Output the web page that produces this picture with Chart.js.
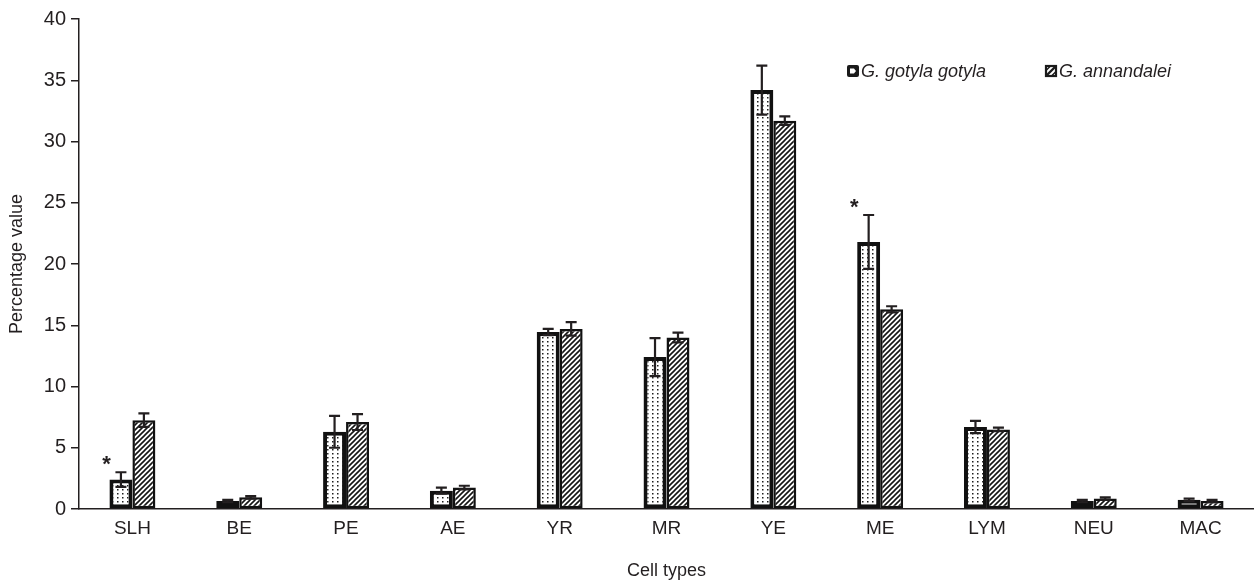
<!DOCTYPE html>
<html>
<head>
<meta charset="utf-8">
<script src="https://cdn.jsdelivr.net/npm/chart.js@4.4.1/dist/chart.umd.min.js"></script>
<style>
  html, body { margin: 0; padding: 0; background: #ffffff; }
  #wrap { width: 1254px; height: 583px; position: relative; }
</style>
</head>
<body>
<div id="wrap"><canvas id="chart" width="1254" height="583"></canvas></div>
<script>
// Cell types on the x axis
const cellTypes = ['SLH', 'BE', 'PE', 'AE', 'YR', 'MR', 'YE', 'ME', 'LYM', 'NEU', 'MAC'];

// Mean percentage values and their errors, per species
const gotylaValues = [2.4, 0.65, 6.3, 1.5, 14.45, 12.4, 34.2, 21.8, 6.7, 0.65, 0.75];
const gotylaErrors = [0.6, 0.1, 1.3, 0.25, 0.25, 1.55, 2.0, 2.2, 0.5, 0.1, 0.1];
const annandaleiValues = [7.25, 0.95, 7.1, 1.75, 14.7, 14.0, 31.7, 16.3, 6.5, 0.85, 0.65];
const annandaleiErrors = [0.55, 0.1, 0.65, 0.15, 0.55, 0.4, 0.35, 0.25, 0.15, 0.1, 0.1];

// Categories where the difference is marked significant
const significant = [true, false, false, false, false, false, false, true, false, false, false];

// Y axis ticks
const yTicks = [0, 5, 10, 15, 20, 25, 30, 35, 40];

const seriesNames = ['G. gotyla gotyla', 'G. annandalei'];

const INK = '#231f20';
const FONT = "'Liberation Sans', Arial, Helvetica, sans-serif";

// Fill patterns: stippled dots and diagonal hatching
function dotPattern() {
  const c = document.createElement('canvas');
  c.width = 5; c.height = 4;
  const g = c.getContext('2d');
  g.fillStyle = '#ffffff';
  g.fillRect(0, 0, 5, 4);
  g.fillStyle = '#1f1f1f';
  g.fillRect(2, 1, 1.5, 1.5);
  return g.createPattern(c, 'repeat');
}
function hatchPattern() {
  const s = 5;
  const c = document.createElement('canvas');
  c.width = s; c.height = s;
  const g = c.getContext('2d');
  g.fillStyle = '#ffffff';
  g.fillRect(0, 0, s, s);
  g.strokeStyle = '#151515';
  g.lineWidth = 1.6;
  g.beginPath();
  g.moveTo(-1, s + 1); g.lineTo(s + 1, -1);
  g.moveTo(-1, 1); g.lineTo(1, -1);
  g.moveTo(s - 1, s + 1); g.lineTo(s + 1, s - 1);
  g.stroke();
  return g.createPattern(c, 'repeat');
}

const dots = dotPattern();
const hatch = hatchPattern();

// Error bars drawn from the error arrays through the y scale
const errorBars = {
  id: 'errorBars',
  afterDatasetsDraw(chart) {
    const ctx = chart.ctx;
    const y = chart.scales.y;
    const errs = [gotylaErrors, annandaleiErrors];
    ctx.save();
    ctx.strokeStyle = INK;
    ctx.lineWidth = 2.2;
    chart.data.datasets.forEach((ds, i) => {
      const meta = chart.getDatasetMeta(i);
      meta.data.forEach((bar, j) => {
        const v = ds.data[j], e = errs[i][j];
        const top = y.getPixelForValue(v + e);
        const bot = y.getPixelForValue(v - e);
        const cap = 5.5;
        ctx.beginPath();
        ctx.moveTo(bar.x, top); ctx.lineTo(bar.x, bot);
        ctx.moveTo(bar.x - cap, top); ctx.lineTo(bar.x + cap, top);
        ctx.moveTo(bar.x - cap, bot); ctx.lineTo(bar.x + cap, bot);
        ctx.stroke();
      });
    });
    // significance asterisks above the first series
    const meta0 = chart.getDatasetMeta(0);
    ctx.fillStyle = INK;
    ctx.font = 'bold 22px ' + FONT;
    ctx.textAlign = 'center';
    ctx.textBaseline = 'middle';
    significant.forEach((s, j) => {
      if (!s) return;
      const bar = meta0.data[j];
      const top = y.getPixelForValue(gotylaValues[j] + gotylaErrors[j]);
      const left = bar.x - bar.width / 2;
      ctx.fillText('*', left - 3, top - 7);
    });
    ctx.restore();
  }
};

// Legend inside the plot area, top right
const insideLegend = {
  id: 'insideLegend',
  afterDraw(chart) {
    const ctx = chart.ctx;
    ctx.save();
    const yc = 71;
    const items = [
      { x: 847, kind: 'dots', label: seriesNames[0] },
      { x: 1045, kind: 'hatch', label: seriesNames[1] }
    ];
    items.forEach(it => {
      const bx = it.x, by = yc - 6, s = 12;
      if (it.kind === 'dots') {
        ctx.fillStyle = '#1a1a1a';
        ctx.beginPath();
        ctx.roundRect(bx, by, s, s, 2);
        ctx.fill();
        ctx.fillStyle = '#ffffff';
        ctx.beginPath();
        ctx.moveTo(bx + 3, by + 3.5);
        ctx.lineTo(bx + 7, by + 3.5);
        ctx.lineTo(bx + 9, by + 6);
        ctx.lineTo(bx + 7, by + 8.5);
        ctx.lineTo(bx + 3, by + 8.5);
        ctx.closePath();
        ctx.fill();
      } else {
        ctx.fillStyle = '#ffffff';
        ctx.fillRect(bx, by, s, s);
        ctx.strokeStyle = '#1a1a1a';
        ctx.lineWidth = 2.2;
        ctx.strokeRect(bx + 1, by + 1, s - 2, s - 2);
        ctx.lineWidth = 2.4;
        ctx.beginPath();
        ctx.moveTo(bx + 2, by + s - 2);
        ctx.lineTo(bx + s - 2, by + 2);
        ctx.stroke();
        ctx.lineWidth = 1.5;
        ctx.beginPath();
        ctx.moveTo(bx + 1, by + 5.5);
        ctx.lineTo(bx + 5.5, by + 1);
        ctx.moveTo(bx + 6.5, by + s - 1);
        ctx.lineTo(bx + s - 1, by + 6.5);
        ctx.stroke();
      }
      ctx.fillStyle = INK;
      ctx.font = 'italic 18px ' + FONT;
      ctx.textAlign = 'left';
      ctx.textBaseline = 'middle';
      ctx.fillText(it.label, bx + 14, yc + 1);
    });
    ctx.restore();
  }
};

const ctx = document.getElementById('chart').getContext('2d');
new Chart(ctx, {
  type: 'bar',
  data: {
    labels: cellTypes,
    datasets: [
      {
        label: seriesNames[0],
        data: gotylaValues,
        backgroundColor: dots,
        borderColor: '#111111',
        borderWidth: 4,
        borderSkipped: false,
        categoryPercentage: 0.43,
        barPercentage: 1.0
      },
      {
        label: seriesNames[1],
        data: annandaleiValues,
        backgroundColor: hatch,
        borderColor: '#111111',
        borderWidth: 2.5,
        borderSkipped: false,
        categoryPercentage: 0.43,
        barPercentage: 1.0
      }
    ]
  },
  options: {
    responsive: false,
    animation: false,
    devicePixelRatio: 1,
    layout: { padding: { top: 19, right: 0, bottom: 0, left: 0 } },
    plugins: {
      legend: { display: false },
      tooltip: { enabled: false }
    },
    scales: {
      x: {
        grid: { display: false, drawTicks: false, drawOnChartArea: false },
        border: { display: true, color: INK, width: 1.5 },
        ticks: { color: INK, font: { family: FONT, size: 19 }, padding: 8 },
        title: {
          display: true, text: 'Cell types', color: INK,
          font: { family: FONT, size: 18 }, padding: { top: 0, bottom: 1 }
        },
        afterFit(scale) { scale.height = 74; }
      },
      y: {
        min: 0, max: 40,
        afterBuildTicks(scale) { scale.ticks = yTicks.map(v => ({ value: v })); },
        grid: { drawOnChartArea: false, drawTicks: true, tickLength: 8, color: INK, lineWidth: 1.5 },
        border: { display: true, color: INK, width: 1.5 },
        ticks: { color: INK, font: { family: FONT, size: 20 }, padding: 5 },
        title: {
          display: true, text: 'Percentage value', color: INK,
          font: { family: FONT, size: 18 }, padding: { top: 6, bottom: 0 }
        },
        afterFit(scale) { scale.width = 79; }
      }
    }
  },
  plugins: [errorBars, insideLegend]
});
</script>
</body>
</html>
